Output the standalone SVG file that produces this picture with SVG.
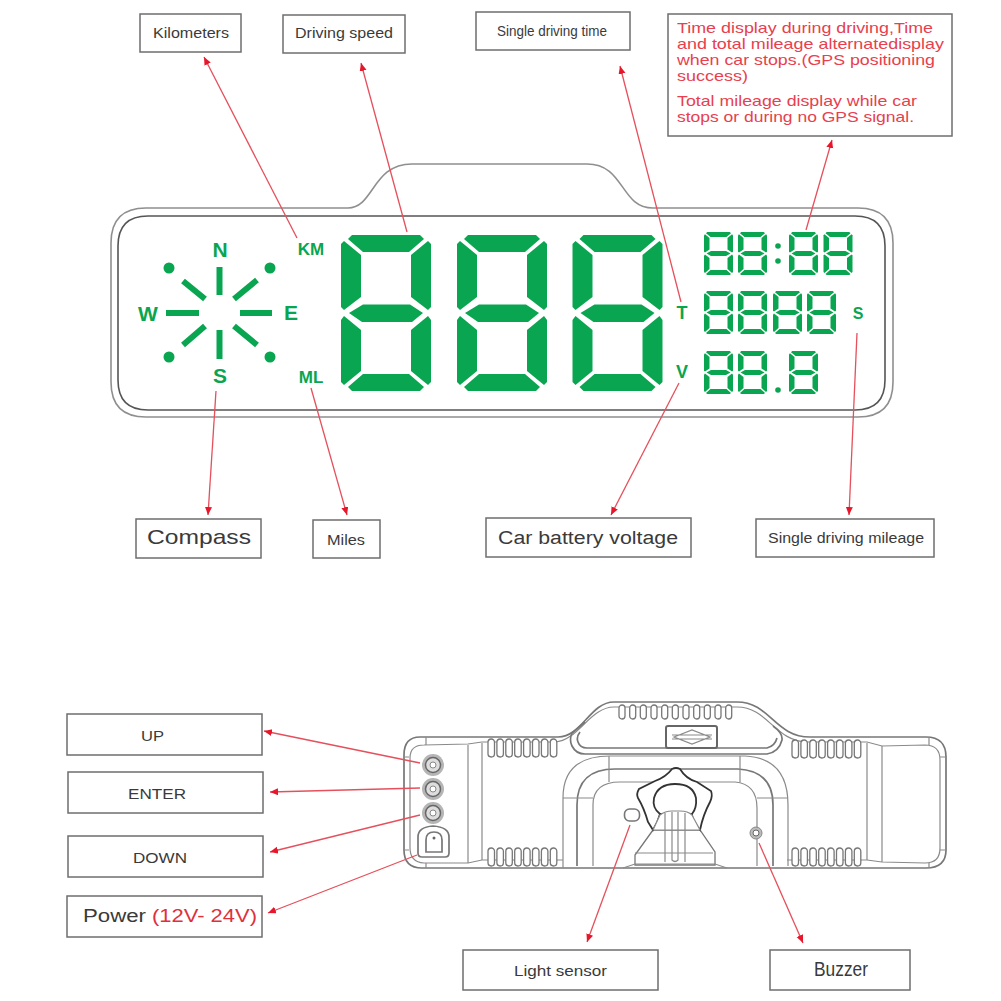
<svg xmlns="http://www.w3.org/2000/svg" width="1001" height="1001" viewBox="0 0 1001 1001">
<style>
.box{fill:#fff;stroke:#6e6e6e;stroke-width:1.500}
.lb{font-family:"Liberation Sans",Arial,sans-serif;fill:#3a3a3a;text-anchor:middle}
.rt{font-family:"Liberation Sans",Arial,sans-serif;fill:#e8404e;font-size:15px}
.g{fill:#0aa550}
.gt{font-family:"Liberation Sans",Arial,sans-serif;font-weight:bold;fill:#0aa550;text-anchor:middle}
.sp{stroke:#0aa550;stroke-width:6;fill:none}
.o{fill:none;stroke:#8f8f8f;stroke-width:1.600}
.o2{fill:none;stroke:#555;stroke-width:1.600}
.d{fill:none;stroke:#8a8a8a;stroke-width:1.200}
.d2{fill:none;stroke:#777;stroke-width:1.700}
.v{fill:#fff;stroke:#777;stroke-width:1.300}
.c{stroke:#e5505c;stroke-width:1.300;fill:none;marker-end:url(#ah)}
</style>
<defs>
<marker id="ah" markerUnits="userSpaceOnUse" markerWidth="10" markerHeight="8" refX="8" refY="3.500" orient="auto"><path d="M0 0L8 3.500L0 7Z" fill="#e8162a"/></marker>
<g id="dg" class="g">
<path d="M7 4L11 0H79L83 4L68 17H22Z"/>
<path d="M0 9L3 6L20 20V62L3 75L0 72Z"/>
<path d="M90 9L87 6L70 20V62L87 75L90 72Z"/>
<path d="M8 78L22 69.500H69L82 78L71 87H21Z"/>
<path d="M0 85L3 81L20 95V136L3 150L0 147Z"/>
<path d="M90 85L87 81L70 95V136L87 150L90 147Z"/>
<path d="M7 152L22 139H68L83 152L79 156H11Z"/>
</g>
<g id="ds" class="g">
<path d="M2 1.200L3.200 0H25.800L27 1.200L22.500 5H6.500Z"/>
<path d="M0 3.200L1 2.200L5.500 6V17.500L1 20.500L0 19.800Z"/>
<path d="M29 3.200L28 2.200L23.500 6V17.500L28 20.500L29 19.800Z"/>
<path d="M2.500 21.500L7 19H22L26.500 21.500L22 24H7Z"/>
<path d="M0 23.500L1 22.500L5.500 26V37L1 41L0 40Z"/>
<path d="M29 23.500L28 22.500L23.500 26V37L28 41L29 40Z"/>
<path d="M2 42L6.500 38H22.500L27 42L25.800 43H3.200Z"/>
</g>
<g id="sl"><rect width="6.500" height="18" rx="3.200" class="v"/></g>
<g id="s8">
<use href="#sl"/><use href="#sl" x="8.900"/><use href="#sl" x="17.800"/><use href="#sl" x="26.700"/><use href="#sl" x="35.600"/><use href="#sl" x="44.500"/><use href="#sl" x="53.400"/><use href="#sl" x="62.300"/>
</g>
<g id="st"><rect width="6" height="14" rx="3" class="v"/></g>
<g id="btn"><circle r="11" fill="#b5b5b5"/><circle r="7.500" fill="#ddd" stroke="#666" stroke-width="1.500"/><circle r="3" fill="#fff" stroke="#888"/></g>
</defs>
<rect width="1001" height="1001" fill="#fff"/>

<g id="front-display">
<path class="o" d="M146 208H348C374 208 372 164 412 164H587C625 164 620 208 653 208H858Q893 208 893 243V382Q893 417 858 417H146Q111 417 111 382V243Q111 208 146 208Z"/>
<path class="o2" d="M148 216H855Q885 216 885 246V380Q885 410 855 410H148Q118 410 118 380V246Q118 216 148 216Z"/>
</g>
<g id="compass-icon">
<path class="sp" d="M219.500 267V295M219.500 330V359M166 313H199M240 313H272M183 281L205 299M257 280L234 299M183 345L205 326M257 345L234 326"/>
<g class="g"><circle cx="169" cy="268" r="5.500"/><circle cx="270" cy="268" r="5.500"/><circle cx="169" cy="357" r="5.500"/><circle cx="270" cy="357" r="5.500"/></g>
<text class="gt" x="220" y="257" font-size="21">N</text>
<text class="gt" x="148" y="321" font-size="21">W</text>
<text class="gt" x="291" y="320" font-size="21">E</text>
<text class="gt" x="220" y="383" font-size="21">S</text>
</g>
<g id="speed-digits">
<use href="#dg" x="341" y="235"/><use href="#dg" x="457" y="235"/><use href="#dg" x="572.500" y="235"/>
<text class="gt" x="311" y="255" font-size="17">KM</text>
<text class="gt" x="311" y="383" font-size="17">ML</text>
</g>
<g id="small-digits">
<use href="#ds" x="704" y="232"/><use href="#ds" x="738" y="232"/><use href="#ds" x="789" y="232"/><use href="#ds" x="823.500" y="232"/>
<circle class="g" cx="778" cy="246" r="2.800"/><circle class="g" cx="778" cy="261" r="2.800"/>
<use href="#ds" x="704" y="291"/><use href="#ds" x="738" y="291"/><use href="#ds" x="773" y="291"/><use href="#ds" x="807" y="291"/>
<use href="#ds" x="704" y="351"/><use href="#ds" x="738" y="351"/><use href="#ds" x="789" y="351"/>
<circle class="g" cx="778" cy="390" r="2.800"/>
<text class="gt" x="682" y="319" font-size="18">T</text>
<text class="gt" x="682" y="378" font-size="18">V</text>
<text class="gt" x="858" y="319" font-size="16">S</text>
</g>

<g id="rear-device">
<path class="d2" d="M420 737H558C582 737 590 702 614 702H737C770 702 775 737 810 737H926Q946 737 946 757V850Q946 868 926 868H422Q404 868 404 850V755Q404 737 420 737Z"/>
<path class="d" d="M424 745Q410 745 410 758V848Q410 862 424 863L468 863L482 860H563M424 745L468 744L482 742H555C578 741 590 707 614 707H737C768 707 775 742 808 742H867L882 746L925 745Q940 745 940 760V848Q940 863 925 863L882 862L867 860H787"/>
<path class="d" d="M404 757H409M404 850H409M940 757H946M940 850H946M426 737V745M426 863V868M468 745V863M482 743V860M867 743V860M882 746V862M929 737V745M929 863V868"/>
<path class="d2" d="M585 722L572 733Q569 740 572 746Q576 754 585 754H767Q779 752 782 740Q783 733 773 726"/>
<path class="d2" d="M580 732Q576 737 578 742Q580 748 587 748H767Q775 746 777 738"/>
<path class="d" d="M563 868V798Q563 756 610 756H745Q788 758 788 805V866"/>
<path class="d2" d="M577 866V805Q577 769 615 769H738Q773 771 773 805V866"/>
<path class="d" d="M593 866V805Q593 782 620 782H735Q757 784 757 808V866M563 798H593M757 798H788M609 756V782M740 756V782"/>
<rect x="666" y="726" width="51" height="22" rx="2" class="v" style="stroke-width:2;stroke:#666"/>
<path class="d" d="M674 737L692 730L710 737L692 744ZM672 735H712M672 739H712"/>
<use href="#s8" x="488" y="739"/><use href="#s8" x="488" y="848"/><use href="#s8" x="792" y="740"/><use href="#s8" x="792" y="848"/>
<use href="#st" x="619" y="705"/><use href="#st" x="629.700" y="705"/><use href="#st" x="640.300" y="705"/><use href="#st" x="651" y="705"/><use href="#st" x="661.700" y="705"/><use href="#st" x="672.300" y="705"/><use href="#st" x="683" y="705"/><use href="#st" x="693.700" y="705"/><use href="#st" x="704.300" y="705"/><use href="#st" x="715" y="705"/><use href="#st" x="725.700" y="705"/>
<use href="#btn" x="433" y="765"/><use href="#btn" x="433" y="789"/><use href="#btn" x="433" y="813"/>
<path class="d2" d="M418 837Q418 827 433 826Q449 827 449 837V853Q449 857 445 857H422Q418 857 418 853Z"/>
<path class="d2" d="M426 840Q426 832 434 832Q442 832 442 840V852H426Z"/>
<circle cx="434" cy="838" r="1.500" fill="#666"/>
<rect x="624.500" y="809" width="15" height="12" rx="5" class="v" style="stroke-width:1.600"/>
<path fill="#fff" stroke="#777" stroke-width="1.300" d="M653 830L635 855V865H715V852L700 830Z"/>
<path fill="#fff" stroke="#333" stroke-width="1.800" d="M672 769Q676 767 680 769Q686 779 697 782L711 791Q713 796 710 802Q703 815 700 830L695 825Q692 820 692 814L660 814Q658 822 653 830L648 822Q644 808 638 798Q636 794 639 789L655 781Q666 777 672 769Z"/>
<path fill="none" stroke="#333" stroke-width="1.800" d="M660 814Q652 808 654 798Q658 784 675 784Q693 784 696 798Q697 808 692 814"/>
<path fill="#fff" stroke="#888" stroke-width="1.200" d="M660 815Q665 811 672 811H680Q688 811 692 815L700 830H653Z"/>
<path class="d" d="M665 813V862M685 813V862M672 812V860Q675 863 678 860V812M635 853H713"/>
<path class="d" d="M623 868L635 864H715L727 868"/>
<circle cx="756" cy="833" r="6" fill="#bbb" stroke="#888"/><circle cx="756" cy="833" r="3" fill="#fff" stroke="#666"/>
</g>

<g id="connectors">
<path class="c" d="M297 238L204 57"/>
<path class="c" d="M407 232L361 63"/>
<path class="c" d="M681 302L620 66"/>
<path class="c" d="M806 230L832 140"/>
<path class="c" d="M216 391L208 515"/>
<path class="c" d="M311 388L347 515"/>
<path class="c" d="M679 383L611 515"/>
<path class="c" d="M857 333L849 515"/>
<path class="c" d="M420 763L264 731"/>
<path class="c" d="M420 788L270 792"/>
<path class="c" d="M420 815L270 852"/>
<path class="c" d="M417 855L268 913"/>
<path class="c" d="M630 825L587 942"/>
<path class="c" d="M759 843L803 943"/>
</g>

<g id="kilometers"><rect class="box" x="140" y="14" width="101" height="38"/><text class="lb" x="191" y="38" font-size="14.500" textLength="76" lengthAdjust="spacingAndGlyphs">Kilometers</text></g>
<g id="driving-speed"><rect class="box" x="283" y="15" width="122" height="38"/><text class="lb" x="344" y="38" font-size="15" textLength="98" lengthAdjust="spacingAndGlyphs">Driving speed</text></g>
<g id="single-time"><rect class="box" x="476" y="12" width="154" height="38"/><text class="lb" x="552" y="36" font-size="15" textLength="110" lengthAdjust="spacingAndGlyphs">Single driving time</text></g>
<g id="time-note"><rect class="box" x="668" y="14" width="284" height="122"/>
<text class="rt" x="677" y="33" textLength="256" lengthAdjust="spacingAndGlyphs">Time display during driving,Time</text>
<text class="rt" x="677" y="49" textLength="267" lengthAdjust="spacingAndGlyphs">and total mileage alternatedisplay</text>
<text class="rt" x="677" y="65" textLength="258" lengthAdjust="spacingAndGlyphs">when car stops.(GPS positioning</text>
<text class="rt" x="677" y="81" textLength="71" lengthAdjust="spacingAndGlyphs">success)</text>
<text class="rt" x="677" y="106" textLength="240" lengthAdjust="spacingAndGlyphs">Total mileage display while car</text>
<text class="rt" x="677" y="122" textLength="237" lengthAdjust="spacingAndGlyphs">stops or during no GPS signal.</text>
</g>
<g id="compass"><rect class="box" x="136" y="519" width="125" height="39"/><text class="lb" x="199" y="544" font-size="21" textLength="104" lengthAdjust="spacingAndGlyphs">Compass</text></g>
<g id="miles"><rect class="box" x="313" y="520" width="67" height="38"/><text class="lb" x="346" y="545" font-size="14" textLength="38" lengthAdjust="spacingAndGlyphs">Miles</text></g>
<g id="voltage"><rect class="box" x="486" y="518" width="205" height="39"/><text class="lb" x="588" y="544" font-size="18" textLength="180" lengthAdjust="spacingAndGlyphs">Car battery voltage</text></g>
<g id="single-mileage"><rect class="box" x="756" y="519" width="178" height="38"/><text class="lb" x="846" y="543" font-size="14" textLength="156" lengthAdjust="spacingAndGlyphs">Single driving mileage</text></g>
<g id="up"><rect class="box" x="67" y="714" width="195" height="41"/><text class="lb" x="152.500" y="741" font-size="15" textLength="23" lengthAdjust="spacingAndGlyphs">UP</text></g>
<g id="enter"><rect class="box" x="68" y="772" width="195" height="41"/><text class="lb" x="157" y="799" font-size="15" textLength="58" lengthAdjust="spacingAndGlyphs">ENTER</text></g>
<g id="down"><rect class="box" x="68" y="836" width="195" height="41"/><text class="lb" x="160" y="863" font-size="15" textLength="54" lengthAdjust="spacingAndGlyphs">DOWN</text></g>
<g id="power"><rect class="box" x="67" y="896" width="195" height="41"/><text class="lb" x="114.500" y="922" font-size="18" textLength="63" lengthAdjust="spacingAndGlyphs">Power</text><text class="lb" x="204.500" y="922" font-size="18" textLength="105" lengthAdjust="spacingAndGlyphs" style="fill:#e0303c">(12V- 24V)</text></g>
<g id="light-sensor"><rect class="box" x="463" y="950" width="195" height="40"/><text class="lb" x="560.500" y="976" font-size="15" textLength="93" lengthAdjust="spacingAndGlyphs">Light sensor</text></g>
<g id="buzzer"><rect class="box" x="770" y="950" width="140" height="40"/><text class="lb" x="841" y="976" font-size="21" textLength="54" lengthAdjust="spacingAndGlyphs">Buzzer</text></g>
</svg>
